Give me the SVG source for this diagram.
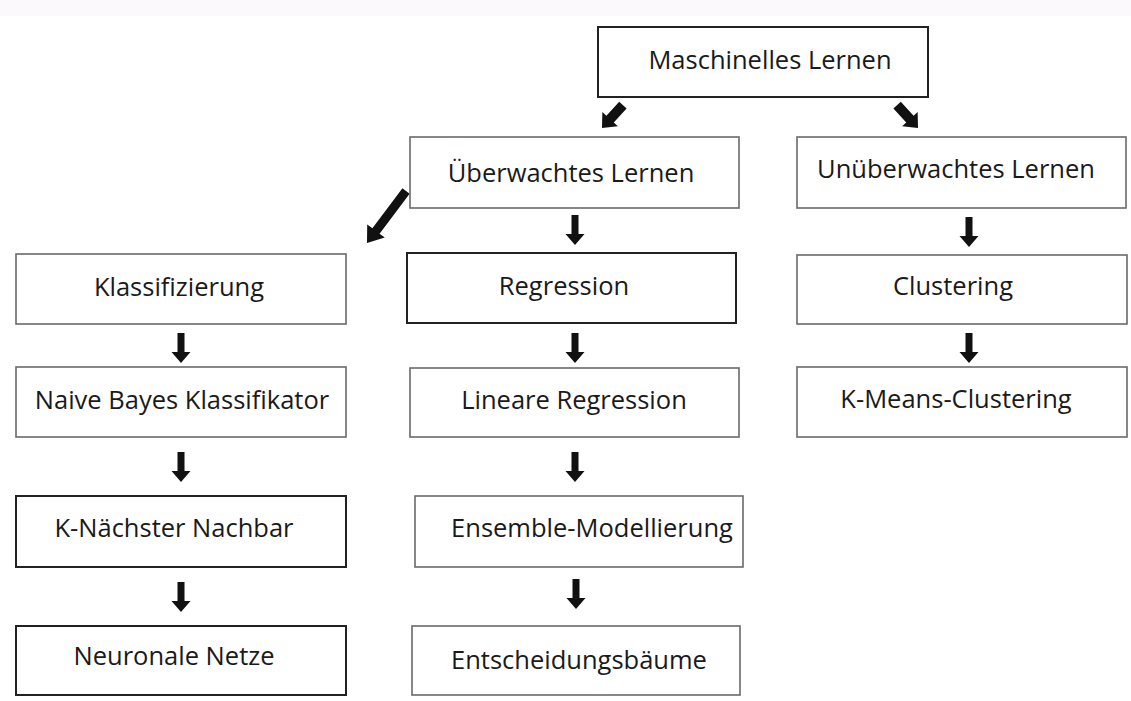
<svg xmlns="http://www.w3.org/2000/svg" width="1131" height="701" viewBox="0 0 1131 701">
<style>
.box{fill:#fff;stroke:#6a6a6a;stroke-width:1.6}
.dark{stroke:#222;stroke-width:2}
.lbl{font-family:"Open Sans","Liberation Sans",sans-serif;font-size:25.5px;fill:#1a1a1a;text-anchor:middle}
.arr{fill:#111}
</style>
<defs>
<polygon id="down" points="-3.5,-30 3.5,-30 3.5,-11 9.5,-11 0,0 -9.5,-11 -3.5,-11"/>
<polygon id="diag" points="-5,-31 5,-31 5,-12 10.5,-12 0,0 -10.5,-12 -5,-12"/>
<polygon id="big" points="-4.5,-65 4.5,-65 4.5,-15 11,-15 0,0 -11,-15 -4.5,-15"/>
</defs>
<rect x="0" y="0" width="1131" height="701" fill="#fff"/>
<rect x="0" y="0" width="1131" height="16" fill="#fbf9fb"/>
<g id="connectors" class="arr">
<use href="#diag" transform="translate(602,128) rotate(42.4)"/>
<use href="#diag" transform="translate(918,128) rotate(-42.4)"/>
<use href="#big" transform="translate(367,243) rotate(36.9)"/>
<use href="#down" transform="translate(575,245)"/>
<use href="#down" transform="translate(969,247)"/>
<use href="#down" transform="translate(181,363)"/>
<use href="#down" transform="translate(575,363)"/>
<use href="#down" transform="translate(969,363)"/>
<use href="#down" transform="translate(181,482)"/>
<use href="#down" transform="translate(575,482)"/>
<use href="#down" transform="translate(181,612)"/>
<use href="#down" transform="translate(576,609)"/>
</g>
<g id="n-ml"><rect class="box dark" x="598" y="27" width="330" height="70"/><text class="lbl" x="770" y="69">Maschinelles Lernen</text></g>
<g id="n-ueb"><rect class="box" x="410" y="137" width="329" height="71"/><text class="lbl" x="571" y="182">Überwachtes Lernen</text></g>
<g id="n-unueb"><rect class="box" x="797" y="137" width="329" height="71"/><text class="lbl" x="956" y="178">Unüberwachtes Lernen</text></g>
<g id="n-klass"><rect class="box" x="16" y="254" width="330" height="70"/><text class="lbl" x="179" y="296">Klassifizierung</text></g>
<g id="n-regr"><rect class="box dark" x="407" y="253" width="329" height="70"/><text class="lbl" x="564" y="295">Regression</text></g>
<g id="n-clust"><rect class="box" x="797" y="255" width="330" height="69"/><text class="lbl" x="953" y="295">Clustering</text></g>
<g id="n-naive"><rect class="box" x="16" y="367" width="330" height="70"/><text class="lbl" x="182" y="409">Naive Bayes Klassifikator</text></g>
<g id="n-linear"><rect class="box" x="410" y="368" width="329" height="69"/><text class="lbl" x="574" y="409">Lineare Regression</text></g>
<g id="n-kmeans"><rect class="box" x="797" y="367" width="330" height="70"/><text class="lbl" x="956" y="408">K-Means-Clustering</text></g>
<g id="n-knn"><rect class="box dark" x="16" y="496" width="330" height="71"/><text class="lbl" x="174" y="537">K-Nächster Nachbar</text></g>
<g id="n-ens"><rect class="box" x="415" y="496" width="328" height="71"/><text class="lbl" x="592" y="537">Ensemble-Modellierung</text></g>
<g id="n-neuro"><rect class="box dark" x="16" y="626" width="330" height="69"/><text class="lbl" x="174" y="665">Neuronale Netze</text></g>
<g id="n-ents"><rect class="box" x="412" y="626" width="328" height="69"/><text class="lbl" x="579" y="669">Entscheidungsbäume</text></g>
</svg>
